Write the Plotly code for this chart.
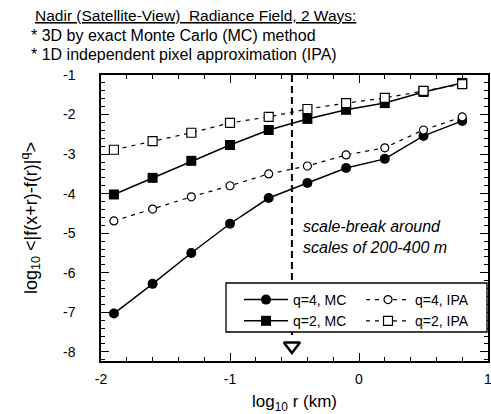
import plotly.graph_objects as go

# ---- data ----
log_r = [-1.9, -1.6, -1.3, -1.0, -0.7, -0.4, -0.1, 0.2, 0.5, 0.8]
q4_mc = [-7.03, -6.28, -5.50, -4.76, -4.11, -3.73, -3.35, -3.12, -2.54, -2.16]
q2_mc = [-4.02, -3.60, -3.17, -2.77, -2.39, -2.11, -1.88, -1.71, -1.43, -1.20]
q4_ipa = [-4.69, -4.39, -4.08, -3.80, -3.50, -3.30, -3.02, -2.84, -2.39, -2.06]
q2_ipa = [-2.89, -2.67, -2.46, -2.21, -2.06, -1.86, -1.71, -1.58, -1.40, -1.23]
scale_break = -0.52
x_ticks = [-2, -1, 0, 1]
y_ticks = [-1, -2, -3, -4, -5, -6, -7, -8]

FONT = "Liberation Sans, Arial, sans-serif"
W, H = 491, 414
L, R, T, B = 101, 3, 75, 53
PW, PH = W - L - R, H - T - B


def px(x):
    return (x - L) / PW


def py(y):
    return (H - B - y) / PH


fig = go.Figure()

# scale-break dashed line
fig.add_shape(type="line", xref="x", yref="y", x0=scale_break, x1=scale_break,
              y0=-1, y1=-7.6, line=dict(color="black", width=2, dash="7px,4px"), layer="below")
# legend frame (white box)
fig.add_shape(type="rect", xref="paper", yref="paper", x0=px(226), x1=px(487), y0=py(332), y1=py(283),
              line=dict(color="black", width=1.3), fillcolor="white", layer="above")

fig.add_trace(go.Scatter(x=log_r, y=q4_mc, name="q=4, MC", mode="lines+markers", legend="legend",
                         line=dict(color="black", width=1.5),
                         marker=dict(symbol="circle", size=10, color="black")))
fig.add_trace(go.Scatter(x=log_r, y=q2_mc, name="q=2, MC", mode="lines+markers", legend="legend",
                         line=dict(color="black", width=1.5),
                         marker=dict(symbol="square", size=10, color="black")))
fig.add_trace(go.Scatter(x=log_r, y=q4_ipa, name="q=4, IPA", mode="lines+markers", legend="legend2",
                         line=dict(color="black", width=1.2, dash="4px,5px"),
                         marker=dict(symbol="circle", size=8, color="white",
                                     line=dict(color="black", width=1.2))))
fig.add_trace(go.Scatter(x=log_r, y=q2_ipa, name="q=2, IPA", mode="lines+markers", legend="legend2",
                         line=dict(color="black", width=1.2, dash="4px,5px"),
                         marker=dict(symbol="square", size=9, color="white",
                                     line=dict(color="black", width=1.2))))
# arrow marker at bottom of scale break
fig.add_trace(go.Scatter(x=[scale_break], y=[-7.85], mode="markers", showlegend=False,
                         marker=dict(symbol="triangle-down-open", size=14, color="black",
                                     line=dict(color="black", width=2.5))))

axis_common = dict(showgrid=False, zeroline=False, showline=True, linecolor="black",
                   linewidth=1.5, mirror="ticks", ticks="inside", ticklen=8, tickwidth=1.2,
                   tickcolor="black", tickfont=dict(family=FONT, size=14, color="black"),
                   automargin=False, ticklabeloverflow="allow",
                   minor=dict(ticks="inside", ticklen=4, tickwidth=1, tickcolor="black", dtick=0.2))

fig.update_xaxes(range=[-2, 1], tickvals=x_ticks, ticktext=[str(v) for v in x_ticks],
                 ticklabelstandoff=4,
                 title=dict(text="log<sub>10</sub> r (km)", font=dict(family=FONT, size=17, color="black"),
                            standoff=15),
                 **axis_common)
fig.update_yaxes(range=[-8.23, -1], tickvals=y_ticks, ticktext=[str(v) for v in y_ticks],
                 ticklabelstandoff=21,
                 title=dict(text="log<sub>10</sub> &lt;|f(x+r)-f(r)|<sup>q</sup>&gt;",
                            font=dict(family=FONT, size=18, color="black"), standoff=21),
                 **axis_common)

# header text
header = [
    ("<u>Nadir (Satellite-View)  Radiance Field, 2 Ways:</u>", 33, 15, 15.5),
    ("* 3D by exact Monte Carlo (MC) method", 29, 35, 16),
    ("* 1D independent pixel approximation (IPA)", 29, 54, 16),
]
for txt, x0, yc, fs in header:
    fig.add_annotation(text=txt, xref="paper", yref="paper", x=px(x0), y=py(yc),
                       xanchor="left", yanchor="middle", showarrow=False,
                       font=dict(family=FONT, size=fs, color="black"))

fig.add_annotation(text="<i>scale-break around<br>scales of 200-400 m</i>", xref="paper", yref="paper",
                   x=px(301), y=py(237), xanchor="left", yanchor="middle", align="left",
                   showarrow=False, font=dict(family=FONT, size=16, color="black"))

leg_common = dict(orientation="v", xanchor="left", yanchor="top", bgcolor="rgba(0,0,0,0)",
                  borderwidth=0, itemwidth=44, tracegroupgap=0,
                  font=dict(family=FONT, size=14, color="black"))
fig.update_layout(
    width=W, height=H, margin=dict(l=L, r=R, t=T, b=B),
    paper_bgcolor="white", plot_bgcolor="white",
    font=dict(family=FONT, color="black"),
    legend=dict(x=px(239), y=py(284), **leg_common),
    legend2=dict(x=px(361), y=py(284), **leg_common),
)

fig.write_html("out.html", config={"displayModeBar": False},
               post_script="document.body.style.margin='0';document.body.style.overflow='hidden';")
